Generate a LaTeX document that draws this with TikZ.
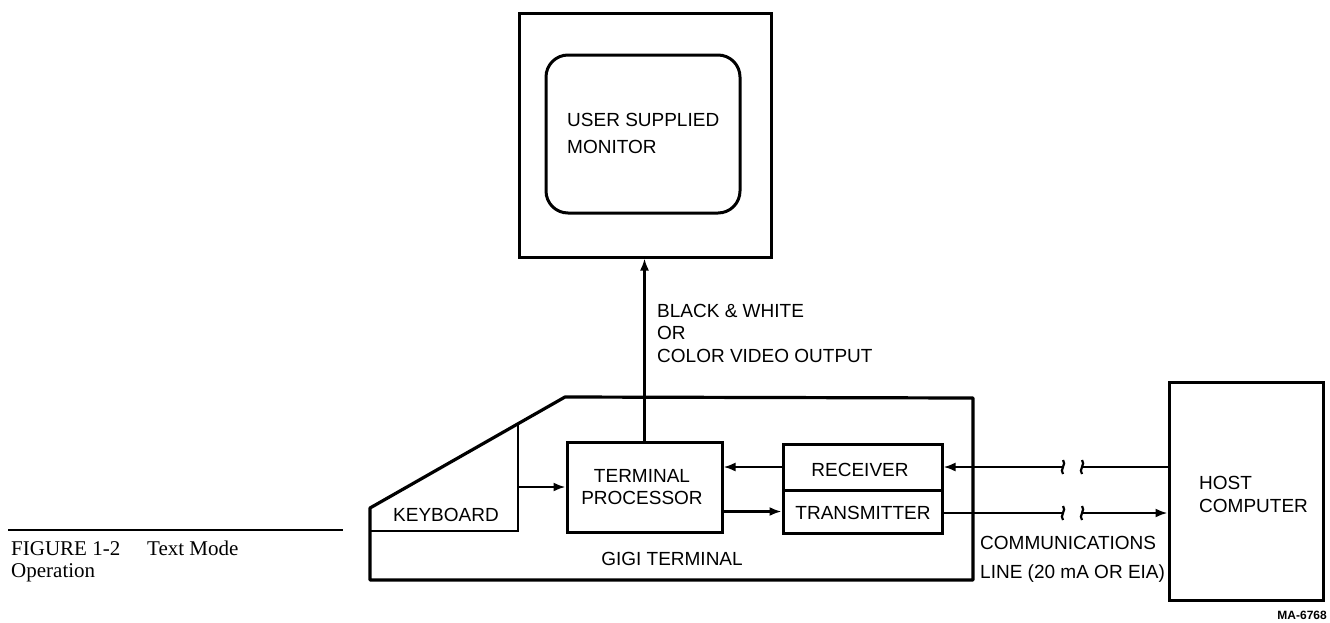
\documentclass[tikz,border=0pt]{standalone}
\usepackage{fontspec}
\setmainfont{Liberation Sans}
\newfontfamily\capfont{Liberation Serif}
\usetikzlibrary{arrows.meta,calc}
\tikzset{
  box/.style={draw, line width=3pt, inner sep=0pt},
  conn/.style={line width=2.2pt},
  arr/.style={conn, -{Latex[length=12pt,width=9pt]}},
  lbl/.style={inner sep=0pt, font=\fontsize{19}{22}\selectfont},
  caplbl/.style={inner sep=0pt, anchor=base west, font=\capfont\fontsize{21}{24}\selectfont},
  outline/.style={line width=3.2pt, line join=round},
}
\newcommand{\brkmark}[1]{\draw[conn] ($#1+(0,-7)$) .. controls ($#1+(4,-3)$) and ($#1+(-4,3)$) .. ($#1+(0,7)$);}
\begin{document}
\begin{tikzpicture}[x=1pt,y=-1pt]
\useasboundingbox (0,0) rectangle (1330,622);
% monitor
\node[box, minimum width=252pt, minimum height=244pt] (mon) at (645,135) {};
\node[box, rounded corners=22pt, minimum width=194pt, minimum height=158pt] (scr) at (643,134) {};
\node[lbl, anchor=base west] (us) at (567,126) {USER SUPPLIED};
\node[lbl, anchor=base west] (mo) at (567,153) {MONITOR};
% terminal outline
\draw[outline] (370,508) -- (565,397) -- (973,398) -- (973,580) -- (370,580) -- cycle;
\coordinate (kbtop) at (518,423.8);
\coordinate (kbbot) at (518,531);
\draw[line width=2.8pt] (kbtop) -- (kbbot) -- (370,531);
\node[lbl, anchor=base] (kbl) at (446,521) {KEYBOARD};
\node[lbl, anchor=base] (gigi) at (672,565) {GIGI TERMINAL};
% terminal processor
\node[box, minimum width=155pt, minimum height=90pt] (tp) at (644.5,487) {};
\node[lbl, anchor=base] (tpa) at (642,482) {TERMINAL};
\node[lbl, anchor=base] (tpb) at (642,504) {PROCESSOR};
% receiver / transmitter
\node[box, minimum width=159pt, minimum height=46pt] (rcv) at (862.5,467) {};
\node[box, minimum width=159pt, minimum height=43pt] (xmt) at (862.5,511.5) {};
\node[lbl, anchor=base] (rcvl) at (860,476) {RECEIVER};
\node[lbl, anchor=base] (xmtl) at (863,519) {TRANSMITTER};
% host
\node[box, minimum width=154pt, minimum height=218pt] (host) at (1246,491) {};
\node[lbl, anchor=base west] (ha) at (1199,489) {HOST};
\node[lbl, anchor=base west] (hb) at (1199,512) {COMPUTER};
% connectors
\coordinate (kbar) at (518,487);
\draw[arr] (kbar) -- (kbar -| tp.west);
\draw[arr] (rcv.west) -- (rcv.west -| tp.east);
\coordinate (xa) at (xmt.west);
\draw[arr] (xa -| tp.east) -- (xa);
\draw[arr] (tp.north) -- (tp.north |- mon.south);
% lines to host with break
\coordinate (r1) at (1063,467);
\coordinate (r2) at (1082,467);
\coordinate (t1) at (1063,513);
\coordinate (t2) at (1082,513);
\draw[conn] (r2 -| host.west) -- (r2);
\draw[arr] (r1) -- (rcv.east);
\draw[conn] (t1 -| xmt.east) -- (t1);
\draw[arr] (t2) -- (t2 -| host.west);
\brkmark{(r1)}
\brkmark{(r2)}
\brkmark{(t1)}
\brkmark{(t2)}
% labels
\node[lbl, anchor=base west] (v1) at (657,317) {BLACK \& WHITE};
\node[lbl, anchor=base west] (v2) at (657,339) {OR};
\node[lbl, anchor=base west] (v3) at (657,362) {COLOR VIDEO OUTPUT};
\node[lbl, anchor=base west] (c1) at (980,549) {COMMUNICATIONS};
\node[lbl, anchor=base west] (c2) at (980,578) {LINE (20 mA OR EIA)};
\node[inner sep=0pt, anchor=base east, font=\bfseries\fontsize{12}{14}\selectfont] (ma) at (1327,619) {MA-6768};
% caption
\coordinate (rulea) at (8,530);
\coordinate (ruleb) at (343,530);
\draw[line width=1.8pt] (rulea) -- (ruleb);
\node[caplbl] (f1) at (11,555) {FIGURE 1-2};
\node[caplbl] (f1b) at (147,555) {Text Mode};
\node[caplbl] (f2) at (11,577) {Operation};
\end{tikzpicture}
\end{document}
